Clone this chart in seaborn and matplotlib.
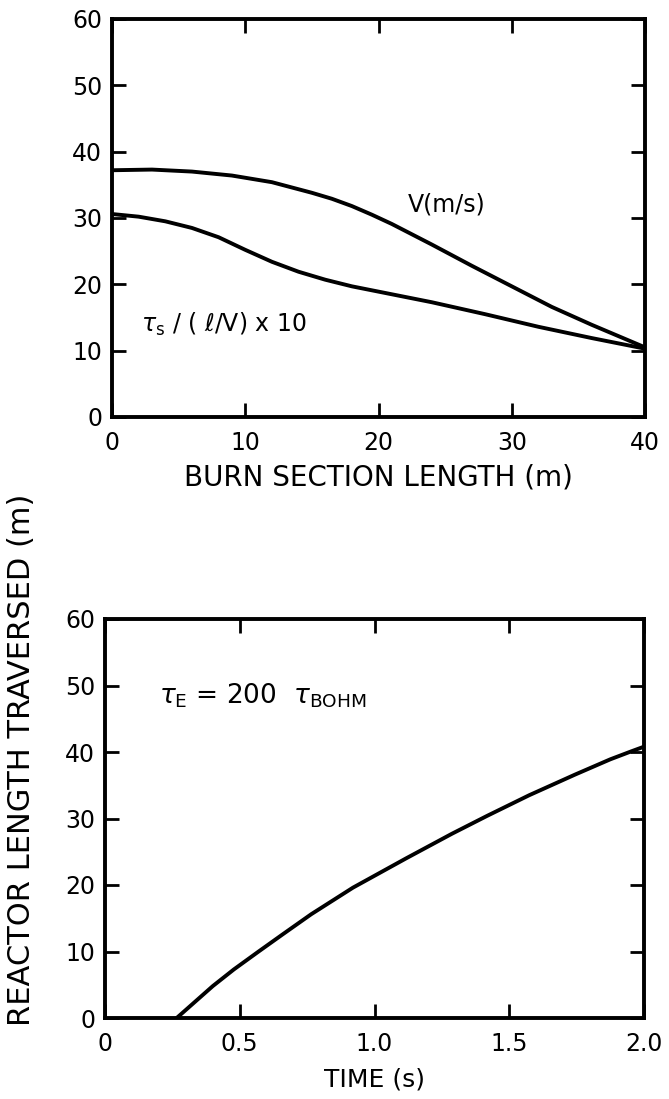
import numpy as np
import pandas as pd
import matplotlib
matplotlib.use("Agg")
import matplotlib.pyplot as plt
import seaborn as sns

# ---- data ----
burn_x = [0, 3, 6, 9, 12, 15, 16.5, 18, 19.5, 21, 24, 27, 30, 33, 36, 40]
velocity = [37.2, 37.3, 37.0, 36.4, 35.4, 33.8, 32.9, 31.8, 30.5, 29.1, 26.0, 22.8, 19.7, 16.6, 13.9, 10.5]

tau_x = [0, 2, 4, 6, 8, 10, 12, 14, 16, 18, 20, 22, 24, 28, 32, 36, 40]
tau_ratio = [30.6, 30.2, 29.5, 28.5, 27.1, 25.2, 23.4, 21.9, 20.7, 19.7, 18.9, 18.1, 17.3, 15.5, 13.6, 11.9, 10.3]

time_s = [0.266, 0.40, 0.478, 0.57, 0.66, 0.765, 0.92, 1.117, 1.287, 1.418, 1.574, 1.744, 1.875, 1.953, 2.0]
length_m = [0.0, 4.8, 7.3, 10.0, 12.6, 15.6, 19.6, 24.0, 27.7, 30.4, 33.5, 36.6, 38.9, 40.1, 40.8]

top_xticks = [0, 10, 20, 30, 40]
top_xticklabels = ["0", "10", "20", "30", "40"]
yticks = [0, 10, 20, 30, 40, 50, 60]
bot_xticks = [0, 0.5, 1.0, 1.5, 2.0]
bot_xticklabels = ["0", "0.5", "1.0", "1.5", "2.0"]

sns.set_theme(style="ticks")
plt.rcParams["font.family"] = ["DejaVu Sans"]
plt.rcParams["mathtext.fontset"] = "dejavusans"
plt.rcParams["text.color"] = "black"
plt.rcParams["axes.labelcolor"] = "black"

W, H = 669, 1099
fig = plt.figure(figsize=(W / 100, H / 100), dpi=100)
fig.patch.set_facecolor("white")

ax1 = fig.add_axes([112 / W, (H - 417) / H, 533 / W, 398 / H])
ax2 = fig.add_axes([105 / W, (H - 1018) / H, 539 / W, 399 / H])

lw = 2.8
df_v = pd.DataFrame({"x": burn_x, "y": velocity})
df_t = pd.DataFrame({"x": tau_x, "y": tau_ratio})
df_b = pd.DataFrame({"x": time_s, "y": length_m})

sns.lineplot(data=df_v, x="x", y="y", ax=ax1, color="black", linewidth=lw, sort=False)
sns.lineplot(data=df_t, x="x", y="y", ax=ax1, color="black", linewidth=lw, sort=False)
sns.lineplot(data=df_b, x="x", y="y", ax=ax2, color="black", linewidth=lw, sort=False)

for ax in (ax1, ax2):
    ax.set_facecolor("white")
    for sp in ax.spines.values():
        sp.set_visible(True)
        sp.set_linewidth(2.8)
        sp.set_color("black")
    ax.set_ylim(0, 60)
    ax.set_yticks(yticks)
    ax.set_yticklabels([str(v) for v in yticks])
    ax.tick_params(direction="in", length=10, width=2, top=True, right=True,
                   labelsize=17, colors="black", labelcolor="black")
    ax.tick_params(axis="y", pad=7)
    ax.tick_params(axis="x", pad=10)
    ax.grid(False)

ax1.set_xlim(0, 40)
ax1.set_xticks(top_xticks)
ax1.set_xticklabels(top_xticklabels)
ax1.set_xlabel("BURN SECTION LENGTH (m)", fontsize=20, labelpad=6)
ax1.set_ylabel("")

ax2.set_xlim(0, 2.0)
ax2.set_xticks(bot_xticks)
ax2.set_xticklabels(bot_xticklabels)
ax2.set_xlabel("TIME (s)", fontsize=18, labelpad=8)
ax2.set_ylabel("")

ax1.text(22.2, 32, "V(m/s)", fontsize=17, va="center", ha="left")
ax1.text(2.2, 14, r"$\tau_\mathrm{s}$ / ( $\ell$/V) x 10", fontsize=17, va="center", ha="left")
ax2.text(0.2, 48.5, r"$\tau_\mathrm{E}$ = 200  $\tau_\mathrm{BOHM}$", fontsize=19, va="center", ha="left")

fig.text(22 / W, (H - 760) / H, "REACTOR LENGTH TRAVERSED (m)", rotation=90,
         fontsize=22, va="center", ha="center")

fig.savefig("out.png", dpi=100, facecolor="white")
